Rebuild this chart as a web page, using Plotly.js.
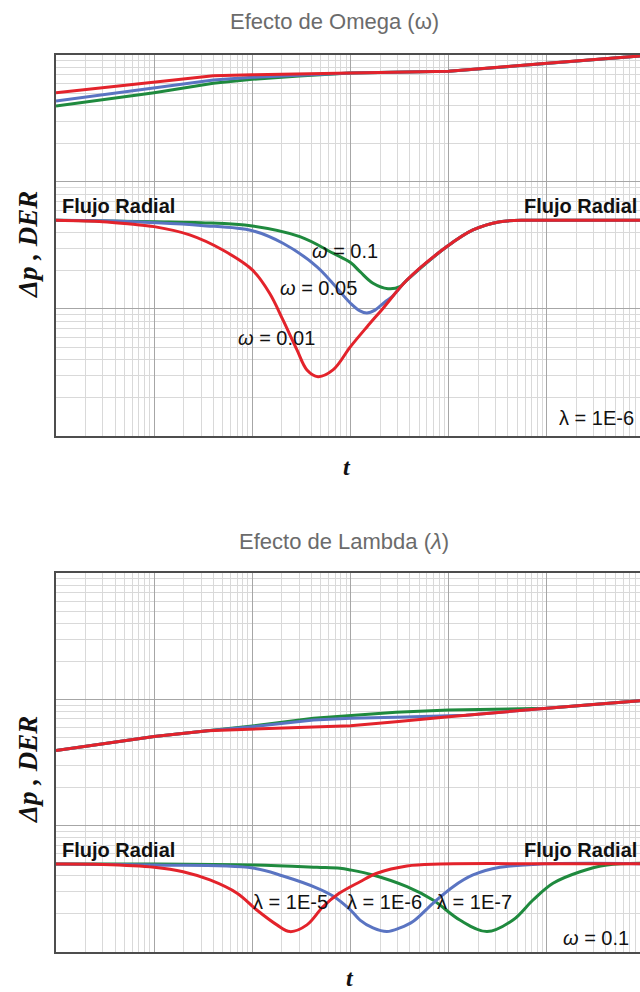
<!DOCTYPE html>
<html>
<head>
<meta charset="utf-8">
<script src="https://cdn.plot.ly/plotly-3.0.1.min.js"></script>
<style>
html, body { margin:0; padding:0; overflow:hidden; background:#fff; }
#chart { width:660px; height:992px; }
</style>
</head>
<body>
<div id="chart"></div>
<script>
// ---------- Panel 1: Efecto de Omega (lambda = 1E-6) ----------
// pressure curves
const omegaP_red_t   = [1, 10, 40, 100, 1000, 10000, 100000, 1000000];
const omegaP_red_y   = [5.05, 6.16, 6.87, 7.0, 7.2, 7.44, 8.6, 9.9];
const omegaP_blue_t  = [1, 10, 40, 100, 300, 1000, 10000, 100000, 1000000];
const omegaP_blue_y  = [4.34, 5.47, 6.35, 6.67, 6.96, 7.2, 7.44, 8.6, 9.9];
const omegaP_green_t = [1, 10, 40, 100, 300, 660, 1000, 10000, 100000, 1000000];
const omegaP_green_y = [3.97, 5.05, 5.98, 6.44, 6.84, 7.05, 7.2, 7.44, 8.6, 9.9];
// derivative curves
const omegaD_red_t   = [1, 3, 5.7, 10, 23, 50, 100, 150, 205, 285, 360, 467, 663, 1000, 1470, 2140, 3760, 9600, 17700, 33300, 63000, 100000, 1000000];
const omegaD_red_y   = [0.50, 0.487, 0.466, 0.445, 0.383, 0.291, 0.203, 0.133, 0.082, 0.0476, 0.0331, 0.0293, 0.0331, 0.0505, 0.0722, 0.101, 0.169, 0.31, 0.419, 0.487, 0.50, 0.50, 0.50];
const omegaD_blue_t  = [1, 3, 10, 30, 100, 205, 456, 1000, 1250, 1470, 1775, 2245, 2650, 3760, 9600, 17700, 33300, 63000, 100000, 1000000];
const omegaD_blue_y  = [0.50, 0.495, 0.478, 0.455, 0.4135, 0.329, 0.215, 0.111, 0.0965, 0.093, 0.098, 0.1135, 0.125, 0.169, 0.31, 0.419, 0.487, 0.50, 0.50, 0.50];
const omegaD_green_t = [1, 10, 30, 100, 305, 663, 1000, 1250, 1695, 2410, 3190, 3760, 9600, 17700, 33300, 63000, 100000, 1000000];
const omegaD_green_y = [0.50, 0.487, 0.478, 0.450, 0.371, 0.275, 0.232, 0.1966, 0.1594, 0.1445, 0.15, 0.169, 0.31, 0.419, 0.487, 0.50, 0.50, 0.50];

// ---------- Panel 2: Efecto de Lambda (omega = 0.1) ----------
const lambdaP_red_t   = [1, 10, 35, 100, 420, 1000, 2900, 10000, 100000, 1000000];
const lambdaP_red_y   = [3.93, 5.07, 5.65, 5.83, 6.01, 6.19, 6.66, 7.29, 8.5, 9.8];
const lambdaP_blue_t  = [1, 10, 35, 100, 420, 1000, 2900, 5870, 10000, 15000, 100000, 1000000];
const lambdaP_blue_y  = [3.93, 5.07, 5.65, 6.08, 6.87, 7.09, 7.2, 7.28, 7.36, 7.49, 8.5, 9.8];
const lambdaP_green_t = [1, 10, 35, 100, 420, 1000, 2900, 10000, 35000, 83000, 100000, 1000000];
const lambdaP_green_y = [3.93, 5.07, 5.65, 6.16, 7.09, 7.43, 7.91, 8.24, 8.35, 8.42, 8.5, 9.8];

const lambdaD_red_t   = [1, 3, 10, 19.7, 37, 70, 111, 178, 242, 360, 524, 760, 1250, 1860, 3760, 8160, 100000, 1000000];
const lambdaD_red_y   = [0.497, 0.493, 0.4685, 0.432, 0.372, 0.292, 0.215, 0.164, 0.145, 0.164, 0.228, 0.29, 0.360, 0.420, 0.480, 0.497, 0.5, 0.5];
const lambdaD_blue_t  = [1, 10, 101, 205, 456, 663, 1000, 1250, 1695, 2350, 3190, 4330, 6920, 11100, 17700, 33300, 85200, 1000000];
const lambdaD_blue_y  = [0.497, 0.488, 0.462, 0.40, 0.321, 0.2775, 0.215, 0.179, 0.155, 0.145, 0.155, 0.174, 0.243, 0.329, 0.407, 0.4685, 0.497, 0.5];
const lambdaD_green_t = [1, 10, 101, 456, 782, 1000, 1695, 3760, 6920, 13000, 24600, 45200, 72300, 115600, 218000, 410000, 1000000];
const lambdaD_green_y = [0.497, 0.497, 0.488, 0.4685, 0.460, 0.446, 0.407, 0.329, 0.258, 0.179, 0.145, 0.179, 0.258, 0.350, 0.432, 0.488, 0.504];

const omegaLabels  = ["ω = 0.1", "ω = 0.05", "ω = 0.01"];
const lambdaLabels = ["λ = 1E-5", "λ = 1E-6", "λ = 1E-7"];

const RED = '#e3232b', BLUE = '#5a74c2', GREEN = '#1f8a3e';
const LW = 3;

function tr(x, y, color, xa, ya, shape) {
  return {x: x, y: y, type: 'scatter', mode: 'lines', xaxis: xa, yaxis: ya,
          line: {color: color, width: LW, shape: shape || 'linear', smoothing: 1.0},
          hoverinfo: 'skip'};
}

const data = [
  tr(omegaP_green_t, omegaP_green_y, GREEN, 'x', 'y'),
  tr(omegaP_blue_t, omegaP_blue_y, BLUE, 'x', 'y'),
  tr(omegaP_red_t, omegaP_red_y, RED, 'x', 'y'),
  tr(omegaD_green_t, omegaD_green_y, GREEN, 'x', 'y', 'spline'),
  tr(omegaD_blue_t, omegaD_blue_y, BLUE, 'x', 'y', 'spline'),
  tr(omegaD_red_t, omegaD_red_y, RED, 'x', 'y', 'spline'),
  tr(lambdaP_green_t, lambdaP_green_y, GREEN, 'x2', 'y2'),
  tr(lambdaP_blue_t, lambdaP_blue_y, BLUE, 'x2', 'y2'),
  tr(lambdaP_red_t, lambdaP_red_y, RED, 'x2', 'y2'),
  tr(lambdaD_green_t, lambdaD_green_y, GREEN, 'x2', 'y2', 'spline'),
  tr(lambdaD_blue_t, lambdaD_blue_y, BLUE, 'x2', 'y2', 'spline'),
  tr(lambdaD_red_t, lambdaD_red_y, RED, 'x2', 'y2', 'spline')
];

const axBase = {
  type: 'log', dtick: 1, showticklabels: false, ticks: '',
  showgrid: true, gridcolor: '#a6a6a6', gridwidth: 1,
  minor: {showgrid: true, gridcolor: '#d9d9d9', gridwidth: 1, dtick: 'D1'},
  showline: true, linecolor: '#4d4d4d', linewidth: 2, mirror: true,
  zeroline: false, fixedrange: true
};

const SANS = 'Liberation Sans, Arial, Helvetica, sans-serif';
const SERIF = 'Liberation Serif, Times New Roman, serif';

function ann(text, x, y, xanchor, font, extra) {
  return Object.assign({text: text, x: x, y: y, xref: 'paper', yref: 'paper',
    xanchor: xanchor, yanchor: 'middle', showarrow: false, font: font}, extra || {});
}
const fTitle = {family: SANS, size: 22, color: '#6b6b6b'};
const fFlujo = {family: SANS, size: 20, color: '#111'};
const fLab = {family: SANS, size: 20, color: '#111'};
const fAx = {family: SERIF, size: 27, color: '#111'};
const fT = {family: SERIF, size: 24, color: '#111'};

const annotations = [
  ann('Efecto de Omega (ω)', 0.472, 1.0368, 'center', fTitle),
  ann('Efecto de Lambda (<i>λ</i>)', 0.489, 0.4571, 'center', fTitle),
  ann('<b>Flujo Radial</b>', 0.006, 0.8317, 'left', fFlujo),
  ann('<b>Flujo Radial</b>', 0.990, 0.8317, 'right', fFlujo),
  ann('<i>ω</i>' + omegaLabels[0].slice(1), 0.431, 0.7815, 'left', fLab),
  ann('<i>ω</i>' + omegaLabels[1].slice(1), 0.377, 0.7402, 'left', fLab),
  ann('<i>ω</i>' + omegaLabels[2].slice(1), 0.3056, 0.6845, 'left', fLab),
  ann('λ = 1E-6', 0.985, 0.5953, 'right', fLab),
  ann('<b><i>Δp , DER</i></b>', -0.0475, 0.7882, 'center', fAx, {textangle: -90}),
  ann('<b><i>t</i></b>', 0.494, 0.5407, 'center', fT),
  ann('<b>Flujo Radial</b>', 0.006, 0.1137, 'left', fFlujo),
  ann('<b>Flujo Radial</b>', 0.990, 0.1137, 'right', fFlujo),
  ann(lambdaLabels[0], 0.331, 0.0557, 'left', fLab),
  ann(lambdaLabels[1], 0.4907, 0.0557, 'left', fLab),
  ann(lambdaLabels[2], 0.6435, 0.0557, 'left', fLab),
  ann('<i>ω</i> = 0.1', 0.976, 0.0156, 'right', fLab),
  ann('<b><i>Δp , DER</i></b>', -0.0475, 0.2029, 'center', fAx, {textangle: -90}),
  ann('<b><i>t</i></b>', 0.499, -0.0295, 'center', fT)
];

const layout = {
  width: 660, height: 992,
  margin: {l: 56, r: 15, t: 55, b: 40},
  paper_bgcolor: '#fff', plot_bgcolor: '#fff',
  showlegend: false,
  xaxis: Object.assign({}, axBase, {range: [0, 6], anchor: 'y', domain: [0, 1]}),
  yaxis: Object.assign({}, axBase, {range: [-2, 1], anchor: 'x', domain: [0.5753, 1]}),
  xaxis2: Object.assign({}, axBase, {range: [0, 6], anchor: 'y2', domain: [0, 1]}),
  yaxis2: Object.assign({}, axBase, {range: [-1, 2], anchor: 'x2', domain: [0, 0.4225]}),
  annotations: annotations
};

Plotly.newPlot('chart', data, layout, {displayModeBar: false, staticPlot: true});
</script>
</body>
</html>
